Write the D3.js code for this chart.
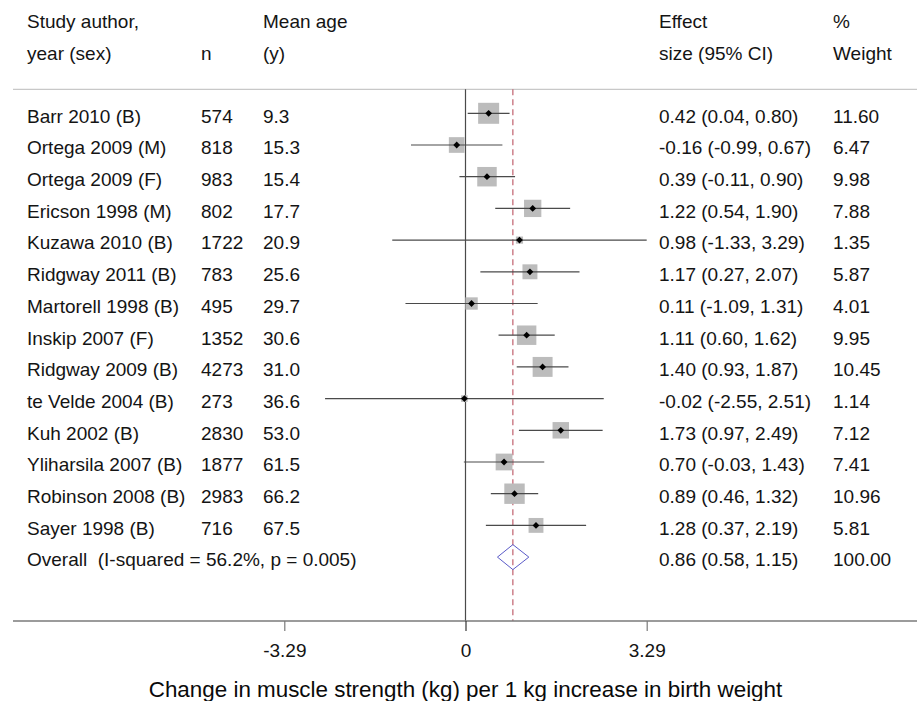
<!DOCTYPE html>
<html><head><meta charset="utf-8">
<script src="https://cdn.jsdelivr.net/npm/d3@7/dist/d3.min.js"></script>
<style>
html,body{margin:0;padding:0;background:#fff;}
svg{display:block;font-family:"Liberation Sans",Arial,sans-serif;}
</style></head>
<body>
<script>
const studies = ["Barr 2010 (B)","Ortega 2009 (M)","Ortega 2009 (F)","Ericson 1998 (M)","Kuzawa 2010 (B)","Ridgway 2011 (B)","Martorell 1998 (B)","Inskip 2007 (F)","Ridgway 2009 (B)","te Velde 2004 (B)","Kuh 2002 (B)","Yliharsila 2007 (B)","Robinson 2008 (B)","Sayer 1998 (B)"];
const nVals = [574,818,983,802,1722,783,495,1352,4273,273,2830,1877,2983,716];
const ages = ["9.3","15.3","15.4","17.7","20.9","25.6","29.7","30.6","31.0","36.6","53.0","61.5","66.2","67.5"];
const es = [0.42,-0.16,0.39,1.22,0.98,1.17,0.11,1.11,1.40,-0.02,1.73,0.70,0.89,1.28];
const lo = [0.04,-0.99,-0.11,0.54,-1.33,0.27,-1.09,0.60,0.93,-2.55,0.97,-0.03,0.46,0.37];
const hi = [0.80,0.67,0.90,1.90,3.29,2.07,1.31,1.62,1.87,2.51,2.49,1.43,1.32,2.19];
const weights = [11.60,6.47,9.98,7.88,1.35,5.87,4.01,9.95,10.45,1.14,7.12,7.41,10.96,5.81];
const overallLabel = "Overall  (I-squared = 56.2%, p = 0.005)";
const overallES = 0.86, overallLo = 0.58, overallHi = 1.15, overallWeight = 100.00;
const tickVals = [-3.29, 0, 3.29];
const tickLabels = ["-3.29", "0", "3.29"];
const headers1 = ["Study author,", "", "Mean age", "Effect", "%"];
const headers2 = ["year (sex)", "n", "(y)", "size (95% CI)", "Weight"];
const xTitle = "Change in muscle strength (kg) per 1 kg increase in birth weight";

const W = 917, H = 701;
const svg = d3.select("body").append("svg").attr("width", W).attr("height", H);

const x = d3.scaleLinear().domain([-3.29, 3.29]).range([284.3, 646.7]);
const y = d3.scaleLinear().domain([0, 1]).range([113.3, 145.0]);
const side = d3.scaleSqrt().domain([0, 11.6]).range([0, 21]);

const colX = [27, 201, 263, 659, 833];
const txtCol = "#141414";
const fs = 19;
const f2 = v => v.toFixed(2);

// headers
[headers1, headers2].forEach((arr, r) => {
  svg.append("g").selectAll("text").data(arr).join("text")
    .attr("x", (d, i) => colX[i]).attr("y", r === 0 ? 28 : 59.7)
    .attr("font-size", fs).attr("fill", txtCol).text(d => d);
});

// top rule
svg.append("line").attr("x1", 13).attr("x2", W).attr("y1", 89.3).attr("y2", 89.3)
  .attr("stroke", "#c8c8c8").attr("stroke-width", 1.2);

// zero line
svg.append("line").attr("x1", x(0)).attr("x2", x(0)).attr("y1", 89.3).attr("y2", 621)
  .attr("stroke", "#4a4a4a").attr("stroke-width", 1.2);

// overall dashed line
svg.append("line").attr("x1", x(overallES)).attr("x2", x(overallES)).attr("y1", 89.3).attr("y2", 621)
  .attr("stroke", "#c0616e").attr("stroke-width", 1.2).attr("stroke-dasharray", "6,4");

const rows = studies.map((s, i) => ({s, n: nVals[i], age: ages[i], es: es[i], lo: lo[i], hi: hi[i], w: weights[i], i}));

const g = svg.append("g");
// squares
g.selectAll("rect.sq").data(rows).join("rect").attr("class", "sq")
  .attr("x", d => x(d.es) - side(d.w) / 2).attr("y", d => y(d.i) - side(d.w) / 2)
  .attr("width", d => side(d.w)).attr("height", d => side(d.w))
  .attr("fill", "#bcbcbc");
// CI lines
g.selectAll("line.ci").data(rows).join("line").attr("class", "ci")
  .attr("x1", d => x(d.lo)).attr("x2", d => x(d.hi))
  .attr("y1", d => y(d.i)).attr("y2", d => y(d.i))
  .attr("stroke", "#4a4a4a").attr("stroke-width", 1.2);
// point markers (small diamonds)
g.selectAll("rect.pt").data(rows).join("rect").attr("class", "pt")
  .attr("x", -2.4).attr("y", -2.4).attr("width", 4.8).attr("height", 4.8)
  .attr("transform", d => `translate(${x(d.es)},${y(d.i)}) rotate(45)`)
  .attr("fill", "#000");

// text columns
const tcols = [d => d.s, d => d.n, d => d.age, d => `${f2(d.es)} (${f2(d.lo)}, ${f2(d.hi)})`, d => f2(d.w)];
tcols.forEach((fn, c) => {
  svg.append("g").selectAll("text").data(rows).join("text")
    .attr("x", colX[c]).attr("y", d => y(d.i) + 9.3)
    .attr("font-size", fs).attr("fill", txtCol).text(fn);
});

// overall
const oi = studies.length;
const oy = y(oi);
svg.append("path")
  .attr("d", `M${x(overallLo)},${oy} L${x(overallES)},${oy - 12.5} L${x(overallHi)},${oy} L${x(overallES)},${oy + 12.5} Z`)
  .attr("fill", "none").attr("stroke", "#5a5ac8").attr("stroke-width", 1);
svg.append("text").attr("x", colX[0]).attr("y", oy + 9.3).attr("font-size", fs).attr("fill", txtCol)
  .style("white-space", "pre").attr("xml:space", "preserve").text(overallLabel);
svg.append("text").attr("x", colX[3]).attr("y", oy + 9.3).attr("font-size", fs).attr("fill", txtCol)
  .text(`${f2(overallES)} (${f2(overallLo)}, ${f2(overallHi)})`);
svg.append("text").attr("x", colX[4]).attr("y", oy + 9.3).attr("font-size", fs).attr("fill", txtCol)
  .text(f2(overallWeight));

// axis
const axisY = 621;
svg.append("line").attr("x1", 13).attr("x2", W).attr("y1", axisY).attr("y2", axisY)
  .attr("stroke", "#7a7a7a").attr("stroke-width", 1.5);
const ax = svg.append("g").attr("transform", `translate(0,${axisY})`)
  .call(d3.axisBottom(x).tickValues(tickVals).tickSize(10).tickFormat((d, i) => tickLabels[i]));
ax.select(".domain").remove();
ax.selectAll(".tick line").attr("stroke", (d) => d === 0 ? "#333" : "#7a7a7a").attr("stroke-width", 1.2);
ax.selectAll(".tick text").attr("font-size", fs).attr("fill", txtCol)
  .attr("font-family", "Liberation Sans, Arial, sans-serif").attr("y", 36).attr("dy", 0);

svg.append("text").attr("x", x(0)).attr("y", 697).attr("text-anchor", "middle")
  .attr("font-size", 22.4).attr("fill", "#0a0a0a").text(xTitle);
</script>
</body></html>
